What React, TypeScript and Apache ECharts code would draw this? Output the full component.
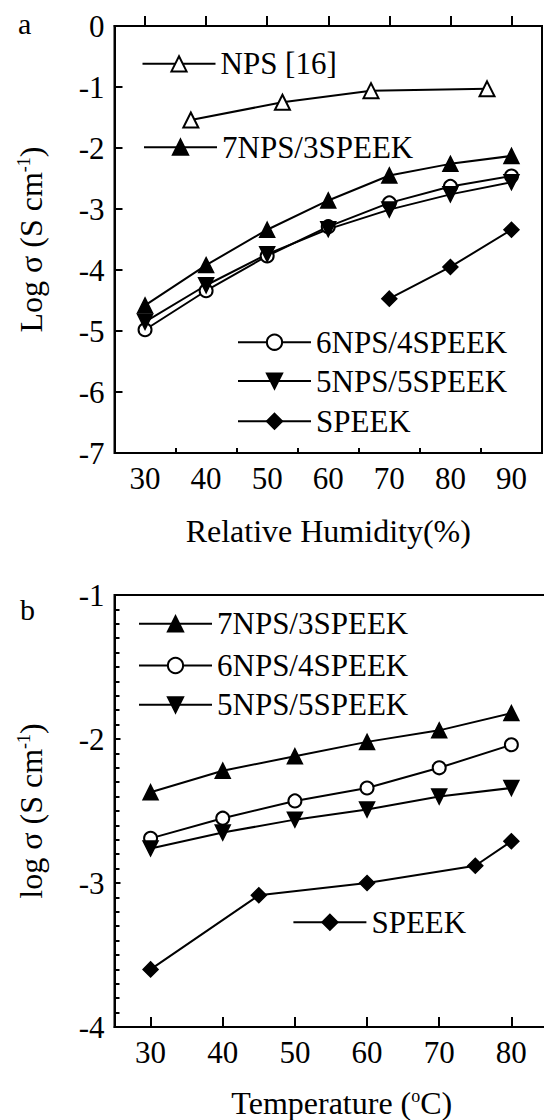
import React, { useEffect, useRef, useState } from "react";
import * as echarts from "echarts";

// ---- Panel a: conductivity vs relative humidity ----
const rhX = [30, 40, 50, 60, 70, 80, 90];
const npsX = [37.5, 52.5, 67, 86];
const npsY = [-1.54, -1.25, -1.06, -1.03];
const a7NPS = [-4.58, -3.92, -3.34, -2.86, -2.45, -2.26, -2.13];
const a6NPS = [-4.98, -4.34, -3.77, -3.29, -2.9, -2.63, -2.46];
const a5NPS = [-4.85, -4.25, -3.74, -3.33, -3.01, -2.76, -2.56];
const speekAX = [70, 80, 90];
const speekAY = [-4.47, -3.95, -3.34];

// ---- Panel b: conductivity vs temperature ----
const tX = [30, 40, 50, 60, 70, 80];
const b7NPS = [-2.37, -2.22, -2.12, -2.02, -1.94, -1.82];
const b6NPS = [-2.69, -2.55, -2.43, -2.34, -2.2, -2.04];
const b5NPS = [-2.76, -2.65, -2.56, -2.49, -2.4, -2.34];
const speekBX = [30, 45, 60, 75, 80];
const speekBY = [-3.6, -3.085, -3.0, -2.88, -2.71];

const rhTicks = [30, 40, 50, 60, 70, 80, 90];
const rhMinorTicks = [35, 45, 55, 65, 75, 85];
const tTicks = [30, 40, 50, 60, 70, 80];

const FONT = "'Liberation Serif', 'Times New Roman', serif";
const pair = (xs: number[], ys: number[]) => xs.map((x, i) => [x, ys[i]]);

export default function App() {
  const ref = useRef<HTMLDivElement>(null);
  const [tick, setTick] = useState(0);
  useEffect(() => {
    const chart = echarts.init(ref.current!, null, { renderer: "svg" });
    const txt = { fontFamily: FONT, fontSize: 31, color: "#000" };
    const line = (name: string, data: number[][], symbol: string, size: number, idx: number, rot = 0) => ({
      name, type: "line", data,
      xAxisIndex: idx === 0 ? 0 : 2, yAxisIndex: idx,
      symbol, symbolSize: size, symbolRotate: rot,
      lineStyle: { color: "#000", width: 2 },
      itemStyle: { color: "#000", borderColor: "#000", borderWidth: 1.5 },
      z: 3,
    });
    const leg = (name: string, left: number, yc: number) => ({
      data: [name], left: left + 1, top: yc - 15, orient: "horizontal", padding: 0,
      itemWidth: 73, itemHeight: 19, selectedMode: false,
      textStyle: { ...txt, lineHeight: 30 },
      lineStyle: { width: 2 },
    });
    const nStyle = { fontFamily: FONT, fontSize: 32, color: "#000" };
    const supStyle = { fontFamily: FONT, fontSize: 18, color: "#000", padding: [0, 0, 14, 0] };
    const baseY = {
      type: "value",
      axisLine: { show: true, lineStyle: { color: "#000", width: 2 } },
      axisLabel: { ...txt, margin: 10 },
      splitLine: { show: false },
      nameLocation: "middle", nameRotate: 90,
    };
    chart.setOption({
      animation: false,
      backgroundColor: "#fff",
      textStyle: { fontFamily: FONT, color: "#000" },
      grid: [
        { left: 114.5, top: 26, width: 427.5, height: 427, show: true, borderColor: "#000", borderWidth: 2 },
        { left: 114.5, top: 595, width: 454.6, height: 434, show: true, borderColor: "#000", borderWidth: 2 },
      ],
      xAxis: [
        {
          type: "value", gridIndex: 0, min: 25, max: 95,
          axisLine: { show: true, lineStyle: { color: "#000", width: 2 } },
          axisTick: { show: true, inside: true, length: 10, lineStyle: { color: "#000", width: 2 }, customValues: rhTicks },
          axisLabel: { ...txt, margin: 10, customValues: rhTicks },
          splitLine: { show: false },
          name: "Relative Humidity(%)", nameLocation: "middle", nameGap: 62,
          nameTextStyle: nStyle,
        },
        {
          type: "value", gridIndex: 0, min: 25, max: 95, position: "bottom",
          axisLine: { show: false },
          axisTick: { show: true, inside: true, length: 5, lineStyle: { color: "#000", width: 2 }, customValues: rhMinorTicks },
          axisLabel: { show: false },
          splitLine: { show: false },
        },
        {
          type: "value", gridIndex: 1, min: 25, max: 88,
          axisLine: { show: true, lineStyle: { color: "#000", width: 2 } },
          axisTick: { show: true, inside: true, length: 10, lineStyle: { color: "#000", width: 2 }, customValues: tTicks },
          axisLabel: { ...txt, margin: 10, customValues: tTicks },
          splitLine: { show: false },
          name: "{n|Temperature (}{sup|o}{n|C)}", nameLocation: "middle", nameGap: 60,
          nameTextStyle: { ...nStyle, rich: { n: nStyle, sup: supStyle } },
        },
      ],
      yAxis: [
        {
          ...baseY, gridIndex: 0, min: -7, max: 0, interval: 1,
          axisTick: { show: true, inside: true, length: 8, lineStyle: { color: "#000", width: 2 } },
          name: "{n|Log σ (S cm}{sup|-1}{n|)}", nameGap: 68,
          nameTextStyle: { ...nStyle, rich: { n: nStyle, sup: supStyle } },
        },
        {
          ...baseY, gridIndex: 1, min: -4, max: -1, interval: 1,
          axisTick: { show: true, inside: true, length: 6, lineStyle: { color: "#000", width: 2 } },
          minorTick: { show: true, splitNumber: 10, length: 5, lineStyle: { color: "#000", width: 2 } },
          name: "{n|log σ (S cm}{sup|-1}{n|)}", nameGap: 68,
          nameTextStyle: { ...nStyle, rich: { n: nStyle, sup: supStyle } },
        },
      ],
      legend: [
        leg("NPS [16]", 140.5, 63.3),
        leg("7NPS/3SPEEK", 142, 146.7),
        leg("6NPS/4SPEEK", 236, 341.7),
        leg("5NPS/5SPEEK", 236, 380.5),
        leg("SPEEK", 236, 420.7),
        leg("7NPS/3SPEEK", 137, 623.3),
        leg("6NPS/4SPEEK", 137, 665),
        leg("5NPS/5SPEEK", 137, 704.3),
        leg("SPEEK", 291.4, 921.7),
      ],
      graphic: [
        { type: "text", left: 18, top: 8, style: { text: "a", fontFamily: FONT, fontSize: 30, fill: "#000" } },
        { type: "text", left: 20, top: 594, style: { text: "b", fontFamily: FONT, fontSize: 30, fill: "#000" } },
      ],
      series: [
        line("NPS [16]", pair(npsX, npsY), "emptyTriangle", 15, 0),
        line("7NPS/3SPEEK", pair(rhX, a7NPS), "triangle", 15, 0),
        line("6NPS/4SPEEK", pair(rhX, a6NPS), "emptyCircle", 13, 0),
        line("5NPS/5SPEEK", pair(rhX, a5NPS), "triangle", 15, 0, 180),
        line("SPEEK", pair(speekAX, speekAY), "diamond", 15, 0),
        line("7NPS/3SPEEK", pair(tX, b7NPS), "triangle", 15, 1),
        line("6NPS/4SPEEK", pair(tX, b6NPS), "emptyCircle", 13, 1),
        line("5NPS/5SPEEK", pair(tX, b5NPS), "triangle", 15, 1, 180),
        line("SPEEK", pair(speekBX, speekBY), "diamond", 15, 1),
      ],
    });
    setTick(1);
    return () => chart.dispose();
  }, []);
  return (
    <div>
      <div
        ref={ref}
        style={{ position: "fixed", left: 0, top: 0, width: 600, height: 1120, background: "#fff" }}
      />
      <div
        aria-hidden="true"
        style={{ position: "fixed", left: -2000, top: 0, fontFamily: FONT, fontSize: 31 }}
      >
        {tick ? "." : ""}
      </div>
    </div>
  );
}
